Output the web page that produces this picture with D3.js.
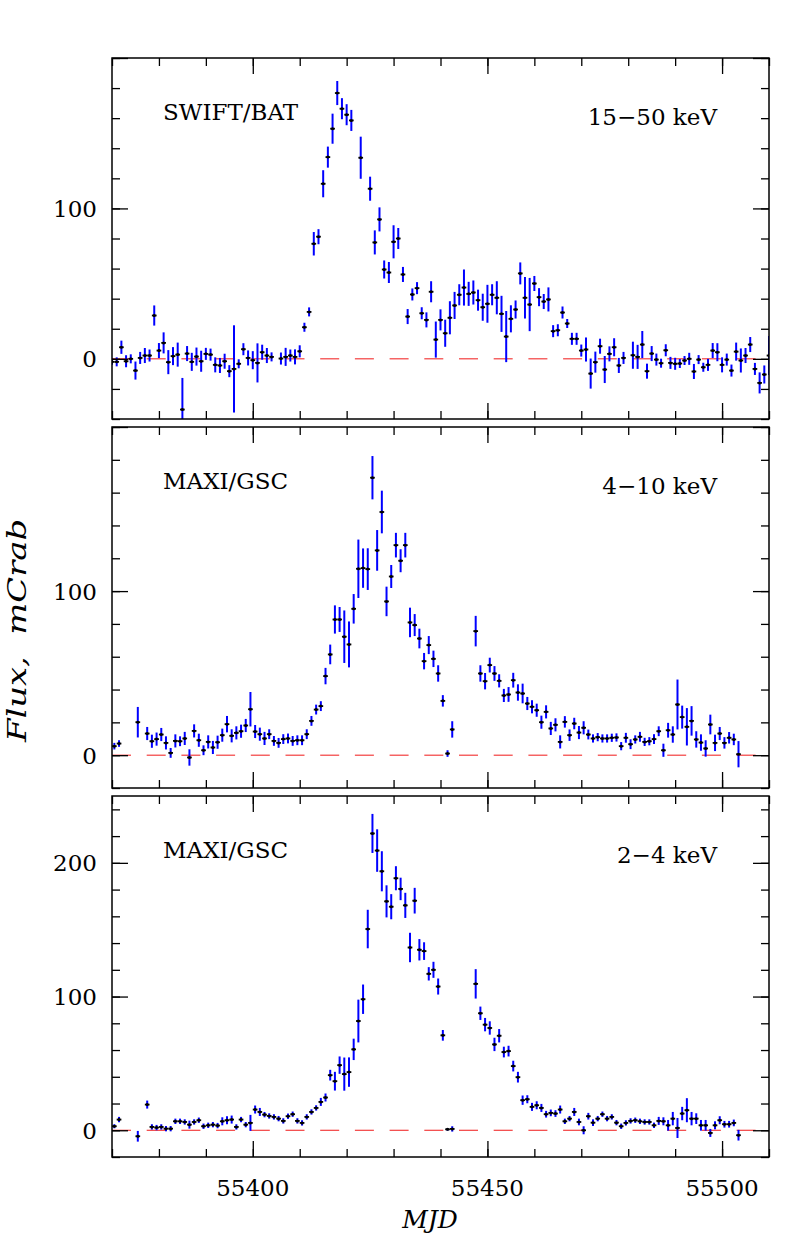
<!DOCTYPE html>
<html>
<head>
<meta charset="utf-8">
<script src="https://cdn.jsdelivr.net/npm/d3@7"></script>
<style>
  html, body { margin: 0; padding: 0; background: #fff; }
  svg { display: block; }
  text { font-family: "DejaVu Serif", "Liberation Serif", serif; fill: #000; }
</style>
</head>
<body>
<svg id="chart" width="797" height="1260"></svg>
<script>
// ---------------- DATA ----------------
// SWIFT/BAT 15-50 keV
const batMjd = [55370,55371,55372,55373,55374,55375,55376,55377,55378,55379,55380,55381,55382,55383,55384,55385,55386,55387,55388,55389,55390,55391,55392,55393,55394,55395,55396,55397,55398,55399,55400,55401,55402,55403,55404,
55406,55407,55408,55409,55410,55411,55412,55413,55414,55415,55416,55417,55418,55419,55420,55421,55423,
55425,55426,55427,55428,55429,55430,55431,55432,55433,55434,55435,55436,55437,55438,55439,55440,55441,55442,55443,55444,55445,55446,55447,55448,55449,55450,55451,55452,55453,55454,55455,55456,55457,55458,55459,55460,55461,55462,55463,55464,55465,55466,55467,55468,55469,55470,55471,55472,55473,55474,55475,55476,55477,55478,55479,
55481,55482,55483,55484,55485,55486,55487,55488,55489,55490,55491,55492,55493,55494,55495,55496,55497,55498,55499,55500,55501,55502,55503,55504,55505,55506,55507,55508,55509,55510];
const batFlux = [-2,-2,7.7,-1.6,0,-7.8,0.6,2.2,2.2,28.8,5.5,10.6,-2.2,1.8,2.8,-33.7,3.5,-2,1.5,-1.6,3.3,2.8,-4,-4.4,-1.6,-8.2,-6.7,-3.3,6.4,0.6,-0.9,-2.7,4.4,2.2,1.3,
0.2,1.3,2.2,1.3,5,21,31.2,76.5,81.2,116.4,134.1,153,176.7,166.3,162.3,158.5,133.7,
113.1,77.4,92.7,59.4,57.4,77.8,80,56.1,28.1,42.8,47,30.3,25.9,44.6,12.8,25.9,17,27.3,35.5,42.6,47.4,43.2,44.1,39,34.3,36.6,42.6,40.6,29.9,14.8,26.6,32.8,56.8,40.6,36.1,50.1,41,38.1,39.5,18.4,19,30.8,23.5,13.3,13.3,5.5,6.2,-9.8,-2.2,8.4,-7.1,3.3,7.7,-4.4,0.6,
2.4,1.3,9.5,-8.2,3.5,-0.5,-2.9,5.7,-2.7,-3.3,-3.1,-1.1,0,-8.4,-0.5,-5.6,-4,5.5,4.4,-4,-0.5,-7.8,4.8,-1.1,2.2,9.5,-6.7,-16,-10.4,2.2];
const batErr = [2,3,4.4,4,3,6,4,5,4,6.7,5,7,8,6,8,21,5,6,6,7,4,4,5,5,5,4,29,3,4,5,6,13,5,5,3,
4,6,4,5,4,3,3,7.8,5,9,7,10,8,7,7,7,14,
8,8,8,6,7,11,7,5,5,4,4,4,5,7,12,7,9,11,9,7,12,8,8,7,9,12.6,7,11,12,17,9,6,7.3,13.8,17.7,5,6,5,8,4,4,4,3,4,4,4,8,10,7,5,9,5,6,5,4,
9,8,9,5,5,4,3,4,4,4,3,3,4,5,3,3,4,5,6,5,4,4,6,8,5,5,4,7,6,13];

// MAXI/GSC 4-10 keV
const hardMjd = [55370.5,55371.5,55375.5,55377.5,55378.5,55379.5,55380.5,55381.5,55382.5,55383.5,55384.5,55385.5,55386.5,55387.5,55388.5,55389.5,55390.5,55391.5,55392.5,55393.5,55394.5,55395.5,55396.5,55397.5,55398.5,55399.5,55400.5,55401.5,55402.5,55403.5,55404.5,55405.5,55406.5,55407.5,55408.5,55409.5,55410.5,55411.5,55412.5,55413.5,55414.5,55415.5,55416.5,55417.5,55418.5,55419.5,55420.5,55421.5,55422.5,55423.5,55424.5,55425.5,55426.5,55427.5,55428.5,55429.5,55430.5,55431.5,55432.5,55433.5,55434.5,55435.5,55436.5,55437.5,55438.5,55439.5,55440.5,55441.5,55442.5,
55447.5,55448.5,55449.5,55450.5,55451.5,55452.5,55453.5,55454.5,55455.5,55456.5,55457.5,55458.5,55459.5,55460.5,55461.5,55462.5,55463.5,55464.5,55465.5,55466.5,55467.5,55468.5,55469.5,55470.5,55471.5,55472.5,55473.5,55474.5,55475.5,55476.5,55477.5,55478.5,55479.5,55480.5,55481.5,55482.5,55483.5,55484.5,55485.5,55486.5,55487.5,55488.5,55489.5,55490.5,55491.5,55492.5,55493.5,55494.5,55495.5,55496.5,55497.5,55498.5,55499.5,55500.5,55501.5,55502.5,55503.5];
const hardFlux = [5.5,7.1,20.1,13.2,8.5,9.8,12.6,7.5,1.4,8.7,8.5,10.2,-1.4,14.8,9.1,3,8.1,4.7,7.9,12.2,18.9,11.8,13.6,14.6,18.1,28,14.4,12.8,10.2,12.8,8.7,7.5,9.8,10.2,8.7,9.1,9.1,12.8,20.9,27.8,29.9,48.2,61.4,82.7,82.7,72.2,67.5,89.2,113.6,114,113.4,169.1,124.8,148.2,93.7,108.9,128,118.5,128,80.9,79.3,71.1,57.3,67.1,58.7,49.8,33.1,1,15.7,
75.6,49.8,45.1,54.9,49.8,45.3,36.4,37,45.7,38.2,37.6,31.5,29.5,27.4,20.1,26.4,16.3,18.5,8.1,20.3,12.2,19.3,13.8,16.7,12.6,10.2,11,10.2,10.2,10.6,10.8,5.5,10.6,6.7,9.6,11.2,8.1,8.5,9.8,14.6,3,15.2,12.6,30.9,23.2,17.3,20.9,9.6,7.7,4.1,18.7,7.5,13.2,7.5,10.6,9.6,0.6];
const hardErr = [2,2,9.3,4,4,4,4,4,3,4,3,4,5,4,4,3,4,4,4,4,5,4,4,4,4,10.5,4,4,4,3,3,3,3,3,3,3,3,3,3,3,3,5,6,8.6,7.6,16,14,9,17.8,12,12.7,13.2,12.4,13,9,7,7.5,7,7.5,9,6.7,6,5,5.5,5,5,3.5,2,5,
9.3,5,5,4.5,4.5,4,4,4.5,4.5,5,6,4,4,4,4,4,4,4,4,3.5,3.5,3.5,4,4,3,2.5,2.5,2.5,2.5,2.5,2.5,2.5,3,3,2.5,3,2.5,2.5,3,3,4,4.5,5,15.2,7,11.4,9,5,5,5,6,5,4,3.5,3.5,3.5,8];

// MAXI/GSC 2-4 keV
const softMjd = hardMjd.slice();
const softFlux = [3,8,-4.5,19.2,2.5,2,2.5,1.2,1.2,6.7,6.7,6.2,4.2,6.2,7.5,3,3.7,4.2,3.5,6.7,7.5,8,2.5,8,4.2,5.5,15.5,13.7,11.7,10.7,10,8.7,7,10.5,12,7,5.5,10,13.7,16.7,21.2,24.5,41.2,36.7,48.7,42,43.5,60.5,81.7,98,150.5,222,209.2,193.7,171.2,167.2,188.5,180.5,168.2,136.7,171.7,135,134,117,120,107.5,71,0.7,1,
109.5,87.5,79,76.5,64.2,70.7,58.5,59.2,48,39.7,22.5,23.2,17.5,18.7,16.7,12,13,12.5,15.5,6.7,8.7,13.7,6.2,0,10.5,5.7,8.7,12,8.7,10,5.7,3,5.5,7,7.5,6.7,6.2,6.2,3.7,7,6.7,3.7,8.7,1.7,12.5,15,8.7,8.7,3.7,3.7,-2,3.7,7.5,4.5,4.5,5.5,-3.7];
const softErr = [1.5,2,4,3,2,2,2,2,2,2,2,2,3,2,2,2,2,2,2,3,3,3,2,2,2,6,3,3,2,2,2,2,2,2,2,2,2,2,2,2,3,3,4,7,6.5,12.4,11,8,16,11,14.4,14.6,15.9,15,12,9.4,9,8.4,9.4,11,9.6,8,6.6,5,6,6,4,1,2,
11,5,5,5,5,5,4,4,4,4,3.5,3,3,3,3,2.5,2.5,2.5,3,2,2,3,2.5,3,2.5,2.5,2,2,2,2,2,2,2,2,2,2,2,2,2,3,3,4,5,7.5,5,9,5,4,4,4,3,3,3,2.5,2.5,2.5,4];

// Panel texts and axes
const panelNames = ["SWIFT/BAT", "MAXI/GSC", "MAXI/GSC"];
const panelBands = ["15\u221250 keV", "4\u221210 keV", "2\u22124 keV"];
const yDomains = [[-40, 200], [-20, 200], [-20, 250]];
const yMajorTicks = [[0, 100, 200], [0, 100, 200], [0, 100, 200]];
const yTickLabels = [["0", "100", ""], ["0", "100", ""], ["0", "100", "200"]];
const xDomain = [55370, 55510];
const xMajorTicks = [55400, 55450, 55500];
const xTickLabels = ["55400", "55450", "55500"];
const xTitle = "MJD";
const yTitle = "Flux,  mCrab";

// ---------------- LAYOUT ----------------
const svg = d3.select("#chart");
const L = 112, R = 769;
const panelBox = [[58, 419], [427, 788], [796, 1157]];
const series = [
  {mjd: batMjd, flux: batFlux, err: batErr, halfWidth: 0.5},
  {mjd: hardMjd, flux: hardFlux, err: hardErr, halfWidth: 0.5},
  {mjd: softMjd, flux: softFlux, err: softErr, halfWidth: 0.5}
];

const x = d3.scaleLinear().domain(xDomain).range([L, R]);
const xMinor = d3.range(55370, 55511, 10);

panelBox.forEach((box, i) => {
  const [top, bottom] = box;
  const y = d3.scaleLinear().domain(yDomains[i]).range([bottom, top]);
  const yMinor = d3.range(yDomains[i][0], yDomains[i][1] + 0.001, 20);
  const g = svg.append("g");

  const clipId = "clip" + i;
  svg.append("defs").append("clipPath").attr("id", clipId)
    .append("rect").attr("x", L).attr("y", top).attr("width", R - L).attr("height", bottom - top);

  // zero line (dashed red)
  g.append("line")
    .attr("x1", L).attr("x2", R)
    .attr("y1", y(0)).attr("y2", y(0))
    .attr("stroke", "#f01818").attr("stroke-width", 1)
    .attr("stroke-dasharray", "19,15.7");

  // data
  const s = series[i];
  const pts = s.mjd.map((m, k) => ({m: m, f: s.flux[k], e: s.err[k]}));
  const dg = g.append("g").attr("clip-path", `url(#${clipId})`);
  dg.selectAll("line.err").data(pts).enter().append("line")
    .attr("class", "err")
    .attr("x1", d => x(d.m)).attr("x2", d => x(d.m))
    .attr("y1", d => y(d.f - d.e)).attr("y2", d => y(d.f + d.e))
    .attr("stroke", "#0000ff").attr("stroke-width", 2);
  dg.selectAll("line.xerr").data(pts).enter().append("line")
    .attr("class", "xerr")
    .attr("x1", d => x(d.m - s.halfWidth)).attr("x2", d => x(d.m + s.halfWidth))
    .attr("y1", d => y(d.f)).attr("y2", d => y(d.f))
    .attr("stroke", "#000") .attr("stroke-width", 1.8);
  dg.selectAll("circle").data(pts).enter().append("circle")
    .attr("cx", d => x(d.m)).attr("cy", d => y(d.f)).attr("r", 1.5)
    .attr("fill", "#000");

  // axes: ticks inward on all four sides
  const axG = g.append("g");
  const tickStyle = sel => { sel.select(".domain").remove(); sel.selectAll("line").attr("stroke", "#000").attr("stroke-width", 1.3); sel.selectAll("text").remove(); };
  axG.append("g").attr("transform", `translate(${L},0)`)
    .call(d3.axisLeft(y).tickValues(yMinor).tickSize(-8).tickFormat("")).call(tickStyle);
  axG.append("g").attr("transform", `translate(${L},0)`)
    .call(d3.axisLeft(y).tickValues(yMajorTicks[i]).tickSize(-16).tickFormat("")).call(tickStyle);
  axG.append("g").attr("transform", `translate(${R},0)`)
    .call(d3.axisRight(y).tickValues(yMinor).tickSize(-8).tickFormat("")).call(tickStyle);
  axG.append("g").attr("transform", `translate(${R},0)`)
    .call(d3.axisRight(y).tickValues(yMajorTicks[i]).tickSize(-16).tickFormat("")).call(tickStyle);
  axG.append("g").attr("transform", `translate(0,${top})`)
    .call(d3.axisTop(x).tickValues(xMinor).tickSize(-8).tickFormat("")).call(tickStyle);
  axG.append("g").attr("transform", `translate(0,${top})`)
    .call(d3.axisTop(x).tickValues(xMajorTicks).tickSize(-16).tickFormat("")).call(tickStyle);
  axG.append("g").attr("transform", `translate(0,${bottom})`)
    .call(d3.axisBottom(x).tickValues(xMinor).tickSize(-8).tickFormat("")).call(tickStyle);
  axG.append("g").attr("transform", `translate(0,${bottom})`)
    .call(d3.axisBottom(x).tickValues(xMajorTicks).tickSize(-16).tickFormat("")).call(tickStyle);

  // frame
  g.append("rect").attr("x", L).attr("y", top).attr("width", R - L).attr("height", bottom - top)
    .attr("fill", "none").attr("stroke", "#000").attr("stroke-width", 1.5);

  // y tick labels
  yMajorTicks[i].forEach((v, k) => {
    if (!yTickLabels[i][k]) return;
    g.append("text").attr("x", 97).attr("y", y(v) + 8.5)
      .attr("text-anchor", "end").attr("font-size", 23).text(yTickLabels[i][k]);
  });

  // panel labels
  g.append("text").attr("x", 163).attr("y", top + 62).attr("font-size", 23).text(panelNames[i]);
  g.append("text").attr("x", 717).attr("y", top + 67).attr("text-anchor", "end").attr("font-size", 23).text(panelBands[i]);

  if (i === 2) {
    xMajorTicks.forEach((v, k) => {
      svg.append("text").attr("x", x(v)).attr("y", 1196).attr("text-anchor", "middle")
        .attr("font-size", 23).text(xTickLabels[k]);
    });
  }
});

svg.append("text").attr("x", 430).attr("y", 1228).attr("text-anchor", "middle")
  .attr("font-size", 25).attr("font-style", "italic").text(xTitle);

svg.append("text").attr("transform", "translate(26,742) rotate(-90) scale(1.3,1)")
  .attr("text-anchor", "start").attr("font-size", 26).attr("font-style", "italic")
  .attr("xml:space", "preserve").style("white-space", "pre").text(yTitle);
</script>
</body>
</html>
